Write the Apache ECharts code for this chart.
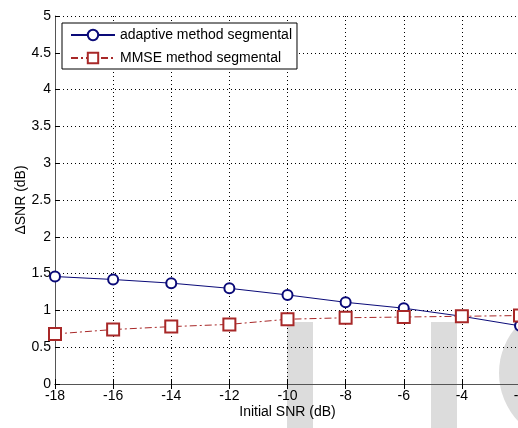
<!DOCTYPE html>
<html>
<head>
<meta charset="utf-8">
<script src="https://cdn.jsdelivr.net/npm/echarts@6/dist/echarts.min.js"></script>
<style>
html, body { margin: 0; padding: 0; background: #fff; }
#main { width: 518px; height: 428px; }
</style>
</head>
<body>
<div id="main"></div>
<script>
var snrList = [-18, -16, -14, -12, -10, -8, -6, -4, -2];
var adaptiveList = [1.46, 1.42, 1.37, 1.30, 1.21, 1.11, 1.03, 0.92, 0.79];
var mmseList = [0.68, 0.74, 0.78, 0.81, 0.88, 0.90, 0.91, 0.92, 0.93];
var legendNames = ['adaptive method segmental', 'MMSE method segmental'];

function toPairs(xs, ys) {
    var out = [];
    for (var i = 0; i < xs.length; i++) {
        out.push([xs[i], ys[i]]);
    }
    return out;
}

var chart = echarts.init(document.getElementById('main'));
var font = 'Arial, "Liberation Sans", Helvetica, sans-serif';
var fs = 14;

var option = {
    backgroundColor: '#fff',
    animation: false,
    textStyle: { fontFamily: font },
    grid: { left: 55, right: -2, top: 16, bottom: 44, containLabel: false, outerBoundsMode: 'none' },
    graphic: [
        { type: 'rect', z: -10, shape: { x: 287, y: 322, width: 26, height: 110 }, style: { fill: '#dcdcdc' } },
        { type: 'rect', z: -10, shape: { x: 431, y: 322, width: 26, height: 110 }, style: { fill: '#dcdcdc' } },
        { type: 'circle', z: -10, shape: { cx: 569, cy: 373, r: 70 }, style: { fill: '#dcdcdc' } }
    ],
    legend: {
        orient: 'vertical',
        left: 62,
        top: 23,
        itemWidth: 44,
        itemHeight: 13,
        itemGap: 9,
        padding: [5, 5, 4, 8],
        backgroundColor: '#fff',
        borderColor: '#000',
        borderWidth: 1,
        borderRadius: 0,
        textStyle: { fontFamily: font, fontSize: fs, color: '#000' },
        data: legendNames
    },
    xAxis: [{
        type: 'value',
        min: -18,
        max: -2,
        interval: 2,
        name: 'Initial SNR (dB)',
        nameLocation: 'middle',
        nameGap: 21,
        nameMoveOverlap: false,
        nameTextStyle: { fontFamily: font, fontSize: fs, color: '#000' },
        axisLine: { onZero: false, lineStyle: { color: '#555', width: 1 } },
        axisTick: { inside: true, length: 5, lineStyle: { color: '#000' } },
        axisLabel: { fontFamily: font, fontSize: fs, color: '#000', margin: 5, hideOverlap: false },
        splitLine: { show: true, lineStyle: { type: [1, 3], color: '#000', width: 1 } }
    }, {
        type: 'value',
        position: 'top',
        min: -18,
        max: -2,
        interval: 2,
        axisLine: { lineStyle: { color: '#555', width: 1 } },
        axisTick: { inside: true, length: 5, lineStyle: { color: '#000' } },
        axisLabel: { show: false },
        splitLine: { show: false }
    }],
    yAxis: {
        type: 'value',
        min: 0,
        max: 5,
        interval: 0.5,
        name: '\u0394SNR (dB)',
        nameLocation: 'middle',
        nameGap: 27,
        nameMoveOverlap: false,
        nameTextStyle: { fontFamily: font, fontSize: fs, color: '#000' },
        axisLine: { show: true, lineStyle: { color: '#555', width: 1 } },
        axisTick: { show: true, inside: true, length: 5, lineStyle: { color: '#000' } },
        axisLabel: { fontFamily: font, fontSize: fs, color: '#000', margin: 4 },
        splitLine: { show: true, lineStyle: { type: [1, 3], color: '#000', width: 1 } }
    },
    series: [{
        name: legendNames[0],
        type: 'line',
        data: toPairs(snrList, adaptiveList),
        symbol: 'emptyCircle',
        symbolSize: 10,
        color: '#0a0a78',
        lineStyle: { color: '#0a0a78', width: 1 },
        itemStyle: { color: '#0a0a78', borderColor: '#0a0a78', borderWidth: 1 }
    }, {
        name: legendNames[1],
        type: 'line',
        data: toPairs(snrList, mmseList),
        symbol: 'emptyRect',
        symbolSize: 12,
        color: '#a82828',
        lineStyle: { color: '#a82828', width: 1, type: [7, 3, 2, 3] },
        itemStyle: { color: '#a82828', borderColor: '#a82828', borderWidth: 1 }
    }]
};

chart.setOption(option);
</script>
</body>
</html>
